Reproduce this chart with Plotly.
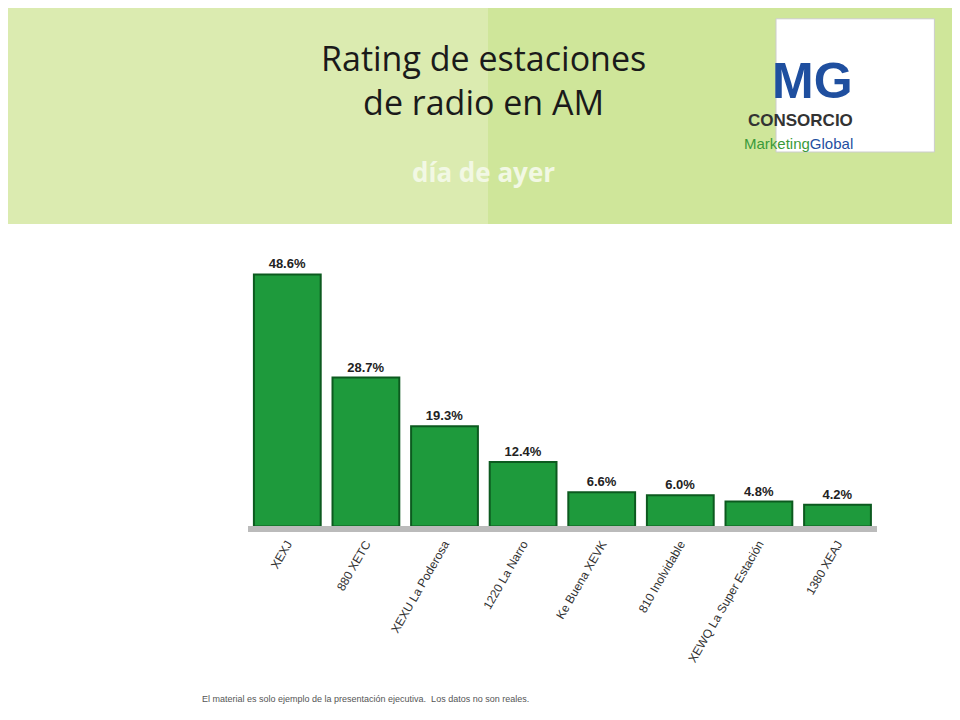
import plotly.graph_objects as go

stations = ["XEXJ", "880 XETC", "XEXU La Poderosa", "1220 La Narro", "Ke Buena XEVK",
            "810 Inolvidable", "XEWQ La Super Estación", "1380 XEAJ"]
ratings = [48.6, 28.7, 19.3, 12.4, 6.6, 6.0, 4.8, 4.2]
labels = [f"<b>{v:.1f}%</b>" for v in ratings]

fig = go.Figure(go.Bar(
    x=stations, y=ratings, text=labels, textposition="outside",
    textfont=dict(family="Liberation Sans", size=13, color="#222"),
    marker=dict(color="#1e9a3c", line=dict(color="#0c5a1f", width=2)),
    width=0.85, cliponaxis=False,
))

fig.update_layout(
    width=960, height=720, paper_bgcolor="white", plot_bgcolor="white",
    margin=dict(l=0, r=0, t=0, b=0), showlegend=False,
    xaxis=dict(domain=[0.25, 0.905], tickangle=-60, showline=True, linecolor="#bbb", linewidth=6,
               tickfont=dict(family="Liberation Sans", size=12, color="#333")),
    yaxis=dict(domain=[0.28, 0.64], range=[0, 50], visible=False),
    shapes=[
        dict(type="rect", xref="paper", yref="paper", x0=0, x1=1, y0=0.70, y1=1,
             fillcolor="#cfe69a", line_width=0, layer="below"),
        dict(type="rect", xref="paper", yref="paper", x0=0, x1=0.5, y0=0.70, y1=1,
             fillcolor="#e2efc0", line_width=0, layer="below", opacity=0.6),
        dict(type="rect", xref="paper", yref="paper", x0=0.80, x1=0.965, y0=0.80, y1=0.985,
             fillcolor="white", line=dict(color="#ccc", width=1)),
    ],
    annotations=[
        dict(text="Rating de estaciones<br>de radio en AM", x=0.495, y=0.965, xref="paper", yref="paper",
             showarrow=False, font=dict(family="Open Sans", size=34, color="#1a1a1a"), yanchor="top"),
        dict(text="<b>día de ayer</b>", x=0.495, y=0.8, xref="paper", yref="paper",
             showarrow=False, font=dict(family="Open Sans", size=26, color="#f2f8e4")),
        dict(text="<b>MG</b>", x=0.882, y=0.94, xref="paper", yref="paper", showarrow=False,
             font=dict(family="Liberation Sans", size=50, color="#1f4f9f")),
        dict(text="<b>CONSORCIO</b>", x=0.882, y=0.86, xref="paper", yref="paper", showarrow=False,
             font=dict(family="Liberation Sans", size=17, color="#333")),
        dict(text="Marketing<span style='color:#1f4f9f'>Global</span>", x=0.882, y=0.827, xref="paper",
             yref="paper", showarrow=False, font=dict(family="Liberation Sans", size=15, color="#3a9a3a")),
        dict(text="El material es solo ejemplo de la presentación ejecutiva.  Los datos no son reales.",
             x=0.2, y=0.03, xref="paper", yref="paper", showarrow=False, xanchor="left",
             font=dict(family="Liberation Sans", size=9, color="#555")),
    ],
)
fig.write_html("out.html")
